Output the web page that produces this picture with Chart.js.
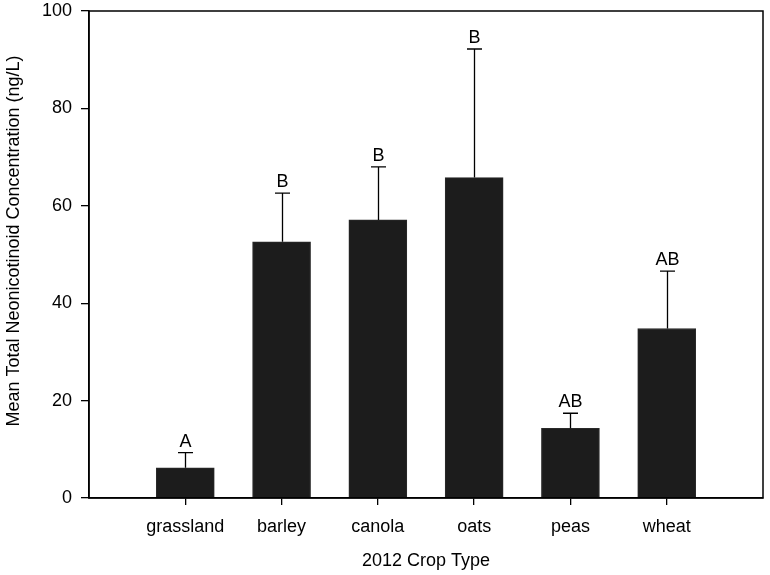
<!DOCTYPE html>
<html>
<head>
<meta charset="utf-8">
<script src="https://cdn.jsdelivr.net/npm/chart.js@4/dist/chart.umd.min.js"></script>
<style>
  html, body { margin: 0; padding: 0; background: #fff; }
  #wrap { width: 770px; height: 575px; }
</style>
</head>
<body>
<div id="wrap"><canvas id="c" width="770" height="575"></canvas></div>
<script>
const categories = ['grassland', 'barley', 'canola', 'oats', 'peas', 'wheat'];
const means = [6.2, 52.6, 57.1, 65.8, 14.3, 34.8];
const errorTops = [9.3, 62.6, 68.0, 92.2, 17.4, 46.6];
const groupLetters = ['A', 'B', 'B', 'B', 'AB', 'AB'];
const yTicks = [0, 20, 40, 60, 80, 100];
const yTitle = 'Mean Total Neonicotinoid Concentration (ng/L)';
const xTitle = '2012 Crop Type';

const FONT = 'Liberation Sans, Arial, Helvetica, sans-serif';

const overlay = {
  id: 'overlay',
  afterDatasetsDraw(chart) {
    const ctx = chart.ctx;
    const xs = chart.scales.x, ys = chart.scales.y;
    const ca = chart.chartArea;
    ctx.save();
    // error bars + letters
    ctx.strokeStyle = '#000';
    ctx.lineWidth = 1.3;
    ctx.fillStyle = '#000';
    ctx.font = '18px ' + FONT;
    ctx.textAlign = 'center';
    ctx.textBaseline = 'alphabetic';
    for (let i = 0; i < categories.length; i++) {
      const px = Math.round(xs.getPixelForValue(i + 1)) + 0.5;
      const yTop = ys.getPixelForValue(errorTops[i]);
      const yBar = ys.getPixelForValue(means[i]);
      ctx.beginPath();
      ctx.moveTo(px, yBar);
      ctx.lineTo(px, yTop);
      ctx.moveTo(px - 7.5, yTop);
      ctx.lineTo(px + 7.5, yTop);
      ctx.stroke();
      ctx.fillText(groupLetters[i], px, yTop - 6);
    }
    // plot frame
    ctx.lineWidth = 1.5;
    ctx.strokeRect(ca.left, ca.top, ca.right - ca.left, ca.bottom - ca.top);
    // y axis title
    ctx.translate(14, 241);
    ctx.rotate(-Math.PI / 2);
    ctx.textBaseline = 'middle';
    ctx.fillText(yTitle, 0, 0);
    ctx.restore();
  }
};

new Chart(document.getElementById('c'), {
  type: 'bar',
  data: {
    datasets: [{
      data: categories.map((c, i) => ({ x: i + 1, y: means[i] })),
      backgroundColor: '#1c1c1c',
      borderColor: '#2a2a2a',
      borderWidth: 1,
      barThickness: 58
    }]
  },
  options: {
    responsive: false,
    animation: false,
    devicePixelRatio: 1,
    layout: { padding: { left: 0, right: 7, top: 11, bottom: 0 } },
    plugins: { legend: { display: false }, tooltip: { enabled: false } },
    scales: {
      x: {
        type: 'linear',
        min: 0,
        max: 7,
        offset: false,
        afterBuildTicks(axis) { axis.ticks = categories.map((c, i) => ({ value: i + 1 })); },
        afterFit(s) { s.height = 77; },
        ticks: {
          autoSkip: false,
          maxRotation: 0,
          color: '#000',
          font: { family: FONT, size: 18 },
          padding: 11,
          callback: (v) => categories[v - 1] || ''
        },
        grid: { display: true, offset: false, drawOnChartArea: false, drawTicks: true, tickLength: 7, color: '#000', lineWidth: 1.3 },
        border: { display: true, color: '#000', width: 1.5 },
        title: {
          display: true,
          text: xTitle,
          color: '#000',
          font: { family: FONT, size: 18 },
          padding: { top: 0, bottom: 3 }
        }
      },
      y: {
        min: 0,
        max: 100,
        afterBuildTicks(axis) { axis.ticks = yTicks.map(v => ({ value: v })); },
        afterFit(s) { s.width = 89; },
        ticks: {
          color: '#000',
          font: { family: FONT, size: 18, lineHeight: 0.2 },
          padding: 9
        },
        grid: { display: true, drawOnChartArea: false, drawTicks: true, tickLength: 8, color: '#000', lineWidth: 1.3 },
        border: { display: true, color: '#000', width: 1.5 },
        title: { display: false }
      }
    }
  },
  plugins: [overlay]
});
</script>
</body>
</html>
